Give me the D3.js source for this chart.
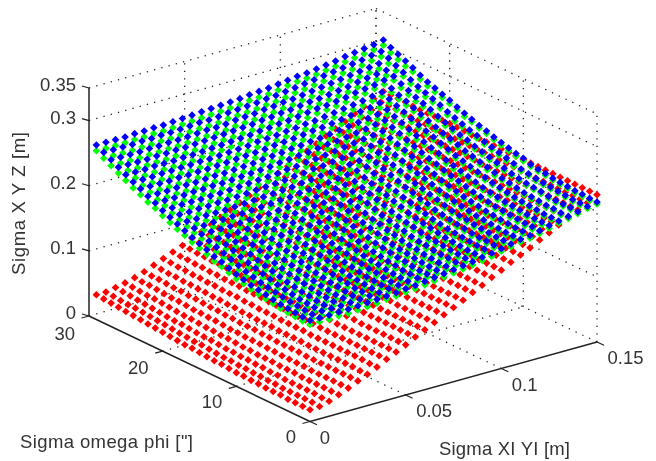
<!DOCTYPE html>
<html>
<head>
<meta charset="utf-8">
<script src="https://cdn.jsdelivr.net/npm/d3@7"></script>
<style>
  html, body { margin: 0; padding: 0; background: #fff; }
  svg { display: block; filter: blur(0.35px); }
  text { font-family: "Liberation Sans", Arial, sans-serif; fill: #333; }
</style>
</head>
<body>
<script>
const width = 656;
const height = 461;

const xTicks = [0, 0.05, 0.1, 0.15];
const yTicks = [0, 10, 20, 30];
const zTicks = [0, 0.1, 0.2, 0.3, 0.35];
const xTickLabels = ["0", "0.05", "0.1", "0.15"];
const yTickLabels = ["0", "10", "20", "30"];
const zTickLabels = ["0", "0.1", "0.2", "0.3", "0.35"];

// grid positions of the markers
const xValues = d3.range(31).map((i) => i * 0.005);
const yValues = d3.range(30);

// surfaces in mm, one row per sigma omega phi value, one column per sigma XI YI value
const redZ = [
  [18,19,23,29,35,42,48,55,63,70,77,85,92,99,107,114,121,129,136,144,151,159,166,173,181,188,196,203,211,218,226],
  [18,20,23,29,35,42,48,55,63,70,77,85,92,99,107,114,121,129,136,144,151,159,166,173,181,188,196,203,211,218,226],
  [18,20,24,29,35,42,49,56,63,70,77,85,92,99,107,114,121,129,136,144,151,159,166,173,181,188,196,203,211,218,226],
  [18,20,24,29,35,42,49,56,63,70,77,85,92,99,107,114,121,129,136,144,151,159,166,173,181,188,196,203,211,218,226],
  [19,20,24,29,35,42,49,56,63,70,77,85,92,99,107,114,121,129,136,144,151,159,166,173,181,188,196,203,211,218,226],
  [19,20,24,29,35,42,49,56,63,70,77,85,92,99,107,114,121,129,136,144,151,159,166,173,181,188,196,203,211,218,226],
  [19,21,24,30,36,42,49,56,63,70,77,85,92,100,107,114,122,129,137,144,151,159,166,174,181,189,196,204,211,218,226],
  [20,21,25,30,36,42,49,56,63,70,78,85,92,100,107,114,122,129,137,144,151,159,166,174,181,189,196,204,211,218,226],
  [20,22,25,30,36,43,49,56,63,70,78,85,92,100,107,114,122,129,137,144,151,159,166,174,181,189,196,204,211,218,226],
  [21,22,26,31,36,43,50,56,63,71,78,85,92,100,107,114,122,129,137,144,151,159,166,174,181,189,196,204,211,218,226],
  [21,23,26,31,37,43,50,57,64,71,78,86,93,100,107,115,122,130,137,144,152,159,167,174,181,189,196,204,211,219,226],
  [22,23,27,31,37,43,50,57,64,71,78,86,93,100,107,115,122,130,137,144,152,159,167,174,181,189,196,204,211,219,226],
  [23,24,27,32,38,44,50,57,64,71,78,86,93,100,107,115,122,130,137,144,152,159,167,174,181,189,196,204,211,219,226],
  [23,24,28,32,38,44,51,57,64,71,79,86,93,100,107,115,122,130,137,144,152,159,167,174,181,189,196,204,211,219,226],
  [24,25,28,33,38,45,51,58,65,72,79,86,93,101,108,115,123,130,137,145,152,160,167,174,182,189,197,204,212,219,226],
  [25,26,29,34,39,45,51,58,65,72,79,86,93,101,108,115,123,130,137,145,152,160,167,174,182,189,197,204,212,219,226],
  [26,27,30,34,39,45,52,58,65,72,79,86,93,101,108,115,123,130,137,145,152,160,167,174,182,189,197,204,212,219,226],
  [26,27,30,35,40,46,52,59,66,72,80,86,93,101,108,115,123,130,137,145,152,160,167,174,182,189,197,204,212,219,226],
  [27,28,31,35,41,46,53,59,66,73,80,87,94,102,109,116,123,131,138,145,153,160,167,175,182,190,197,205,212,219,227],
  [28,29,32,36,41,47,53,60,66,73,80,87,94,102,109,116,123,131,138,145,153,160,167,175,182,190,197,205,212,219,227],
  [29,30,33,37,42,47,54,60,67,73,80,87,94,102,109,116,123,131,138,145,153,160,167,175,182,190,197,205,212,219,227],
  [30,31,33,37,42,48,54,60,67,74,81,87,94,102,109,116,123,131,138,145,153,160,167,175,182,190,197,205,212,219,227],
  [31,32,34,38,43,49,55,61,67,74,81,88,95,103,110,117,124,132,139,146,153,161,168,176,183,190,198,205,213,220,227],
  [32,33,35,39,44,49,55,61,68,75,81,88,95,103,110,117,124,132,139,146,153,161,168,176,183,190,198,205,213,220,227],
  [33,34,36,40,44,50,56,62,68,75,82,88,95,103,110,117,124,132,139,146,153,161,168,176,183,190,198,205,213,220,227],
  [34,35,37,41,45,50,56,62,69,75,82,88,95,103,110,117,124,132,139,146,153,161,168,176,183,190,198,205,213,220,227],
  [35,35,38,41,46,51,57,63,69,76,83,90,97,104,111,118,125,133,140,147,154,162,169,176,184,191,198,206,213,221,228],
  [36,36,39,42,47,52,57,63,70,76,83,90,97,104,111,118,125,133,140,147,154,162,169,176,184,191,198,206,213,221,228],
  [37,37,40,43,47,52,58,64,70,77,83,90,97,104,111,118,125,133,140,147,154,162,169,176,184,191,198,206,213,221,228],
  [38,38,41,44,48,53,59,65,71,77,84,90,97,104,111,118,125,133,140,147,154,162,169,176,184,191,198,206,213,221,228],
];

const greenZ = [
  [149,149,149,150,150,151,152,153,155,156,158,159,161,163,165,167,169,171,174,176,180,183,186,188,191,195,199,202,205,209,212],
  [149,149,150,150,150,151,152,153,155,157,158,160,161,163,165,167,169,171,174,177,180,183,186,189,192,195,199,202,206,209,212],
  [150,150,150,150,151,152,152,154,156,157,158,160,162,163,165,167,170,172,174,177,181,183,186,189,192,195,199,203,206,209,213],
  [151,151,151,151,152,152,153,154,157,158,159,161,162,164,166,168,170,173,175,178,181,184,187,190,193,196,200,203,206,210,213],
  [152,152,152,153,153,154,155,156,158,159,161,162,164,166,167,169,171,174,176,179,182,185,188,191,194,197,201,204,207,211,214],
  [154,154,154,154,155,155,156,157,158,160,161,163,164,166,169,171,173,175,177,180,184,186,189,192,195,198,202,205,209,212,215],
  [156,156,156,156,157,157,158,159,160,162,163,164,166,168,170,172,174,176,179,181,185,188,190,193,196,199,203,206,210,213,216],
  [158,158,158,158,159,160,160,161,162,164,165,166,168,170,172,174,176,178,181,183,187,189,192,195,198,201,205,208,211,214,218],
  [160,160,161,161,161,162,163,164,165,166,168,169,170,172,175,177,179,181,183,185,189,191,194,197,200,203,207,210,213,216,219],
  [163,163,164,164,164,165,166,167,168,169,170,172,173,175,178,179,181,183,185,188,191,194,196,199,202,205,209,212,215,218,221],
  [165,165,166,166,166,167,168,169,171,172,173,175,176,178,181,183,184,186,188,191,194,196,198,201,204,207,211,214,217,220,224],
  [169,169,169,169,170,171,171,172,174,175,177,178,180,181,184,185,187,189,192,194,196,199,201,204,207,210,214,217,220,223,226],
  [173,173,173,173,174,174,175,176,178,179,180,182,183,185,187,189,191,193,195,197,200,202,205,207,210,213,217,220,223,226,229],
  [176,177,177,177,178,178,179,180,182,183,184,185,187,188,191,193,195,196,199,201,203,205,208,211,213,216,220,223,226,229,232],
  [181,181,181,181,182,182,183,184,186,187,188,189,191,192,194,195,197,199,201,203,207,209,211,214,217,219,223,226,229,232,235],
  [185,185,185,185,186,187,187,188,190,191,192,194,195,196,198,200,201,203,205,207,211,213,215,218,220,224,227,230,233,236,239],
  [189,190,190,190,190,191,192,192,194,195,196,198,199,200,202,204,206,207,209,211,215,217,219,222,224,227,231,234,236,239,242],
  [194,194,194,195,195,196,196,197,199,200,201,202,204,205,206,208,210,212,214,216,219,221,223,226,228,231,235,237,240,243,246],
  [198,198,198,199,199,199,200,201,203,204,205,206,207,209,210,212,213,215,217,219,222,224,226,229,231,234,238,240,243,246,249],
  [203,203,203,204,204,205,205,206,208,209,210,211,212,214,215,217,218,220,222,224,227,229,231,233,236,238,242,244,247,250,253],
  [208,208,209,209,209,210,210,211,213,214,215,216,217,219,220,222,223,225,227,229,232,234,236,238,240,243,246,249,252,255,258],
  [214,214,214,214,215,215,216,216,218,219,220,221,222,224,225,227,228,230,232,233,236,238,240,243,245,247,251,253,256,259,262],
  [218,218,218,219,219,219,220,221,222,223,224,225,227,228,229,231,232,234,235,237,240,242,244,246,248,251,254,257,259,262,265],
  [224,224,224,224,225,225,226,226,228,229,230,231,232,233,235,236,237,239,241,242,245,247,249,251,253,256,259,261,264,266,269],
  [229,229,229,230,230,231,231,232,233,234,235,236,237,239,240,241,243,244,246,247,250,252,254,256,258,261,264,266,269,271,274],
  [235,235,235,236,236,236,237,237,239,240,241,242,243,244,246,247,249,250,252,254,257,258,260,262,265,267,270,273,275,277,280],
  [241,241,241,241,242,242,243,243,244,245,246,247,248,249,250,252,253,255,256,258,261,262,264,266,268,271,273,275,277,280,283],
  [247,247,247,247,248,248,249,249,250,251,252,252,253,255,256,257,259,260,262,263,266,268,270,272,274,276,278,280,282,286,288],
  [253,253,253,253,254,254,255,255,256,257,258,258,259,261,262,263,264,266,267,269,272,274,276,278,280,282,284,286,289,291,293],
  [259,259,259,259,260,260,261,261,262,263,264,265,266,267,268,269,271,272,273,275,278,280,281,283,285,287,290,292,294,296,299],
];

const blueZ = [
  [155,155,155,156,156,157,158,159,160,161,163,164,166,168,170,172,174,176,179,181,184,187,190,192,195,199,202,205,208,212,215],
  [155,155,156,156,156,157,158,159,160,162,163,165,166,168,170,172,174,176,179,182,184,187,190,193,196,199,202,205,209,212,215],
  [156,156,156,156,157,158,158,160,161,162,163,165,167,168,170,172,175,177,179,182,185,187,190,193,196,199,202,206,209,212,216],
  [157,157,157,157,158,158,159,160,162,163,164,166,167,169,171,173,175,178,180,183,185,188,191,194,197,200,203,206,209,213,216],
  [158,158,158,159,159,160,161,162,163,164,166,167,169,171,172,174,176,179,181,184,186,189,192,195,198,201,204,207,210,214,217],
  [160,160,160,160,161,161,162,163,164,166,167,169,170,172,174,176,178,180,182,185,188,190,193,196,199,202,205,208,212,215,218],
  [162,162,162,162,163,163,164,165,166,168,169,170,172,174,175,177,179,181,184,186,189,192,194,197,200,203,206,209,213,216,219],
  [164,164,164,164,165,166,166,167,168,170,171,172,174,176,177,179,181,183,186,188,191,193,196,199,202,205,208,211,214,217,221],
  [166,166,167,167,167,168,169,170,171,172,174,175,176,178,180,182,184,186,188,190,193,195,198,201,204,207,210,213,216,219,222],
  [169,169,170,170,170,171,172,173,174,175,176,178,179,181,183,184,186,188,190,193,195,198,200,203,206,209,212,215,218,221,224],
  [172,172,173,173,173,174,175,176,177,178,179,181,182,184,186,188,189,191,193,196,199,201,203,206,209,212,215,218,221,224,228],
  [176,176,176,176,177,178,178,179,180,181,183,184,186,187,189,190,192,194,197,199,201,204,206,209,212,215,218,221,224,227,230],
  [180,180,180,180,181,181,182,183,184,185,186,188,189,191,192,194,196,198,200,202,205,207,210,212,215,218,221,224,227,230,233],
  [183,184,184,184,185,185,186,187,188,189,190,191,193,194,196,198,200,201,204,206,208,210,213,216,218,221,224,227,230,233,236],
  [188,188,188,188,189,189,190,191,192,193,194,195,197,198,200,201,203,205,207,209,212,214,216,219,222,224,227,230,233,236,239],
  [192,192,192,192,193,194,194,195,196,197,198,200,201,202,204,206,207,209,211,213,216,218,220,223,225,229,231,234,237,240,243],
  [196,197,197,197,197,198,199,199,200,201,202,204,205,206,208,210,212,213,215,217,220,222,224,227,229,232,235,238,240,243,246],
  [201,201,201,202,202,203,203,204,205,206,207,208,210,211,212,214,216,218,220,222,224,226,228,231,233,236,239,241,244,247,250],
  [206,206,206,207,207,207,208,209,210,211,212,213,214,216,217,219,220,222,224,226,228,230,232,235,237,240,243,245,248,251,254],
  [211,211,211,212,212,213,213,214,215,216,217,218,219,221,222,224,225,227,229,231,233,235,237,239,242,244,247,249,252,255,258],
  [216,216,217,217,217,218,218,219,220,221,222,223,224,226,227,229,230,232,234,236,238,240,242,244,246,249,251,254,257,260,263],
  [222,222,222,222,223,223,224,224,225,226,227,228,229,231,232,234,235,237,239,240,242,244,246,249,251,253,256,258,261,264,267],
  [227,227,227,228,228,228,229,230,230,231,232,233,235,236,237,239,240,242,243,245,247,249,251,253,255,258,260,263,265,268,271],
  [233,233,233,233,234,234,235,235,236,237,238,239,240,241,243,244,245,247,249,250,252,254,256,258,260,263,265,267,270,272,275],
  [238,238,238,239,239,240,240,241,241,242,243,244,245,247,248,249,251,252,254,255,257,259,261,263,265,268,270,272,275,277,280],
  [244,244,244,245,245,245,246,246,247,248,249,250,251,252,254,255,257,258,260,262,264,265,267,269,272,274,276,279,281,283,286],
  [250,250,250,250,251,251,252,252,253,254,255,256,257,258,259,261,262,264,265,267,269,270,272,274,276,279,281,283,285,288,291],
  [256,256,256,256,257,257,258,258,259,260,261,261,262,264,265,266,268,269,271,272,274,276,278,280,282,284,286,288,290,294,296],
  [262,262,262,262,263,263,264,264,265,266,267,267,268,270,271,272,273,275,276,278,280,282,284,286,288,290,292,294,297,299,301],
  [268,268,268,268,269,269,270,270,271,272,273,274,275,276,277,278,280,281,282,284,286,288,289,291,293,295,298,300,302,304,307],
];

// Orthographic box, measured from the axis corners of the picture
const originX = 310;
const originY = 421.5;
const xAcross = d3.scaleLinear().domain([0, 0.15]).range([0, 287]);
const xUp = d3.scaleLinear().domain([0, 0.15]).range([0, 79.5]);
const yAcross = d3.scaleLinear().domain([0, 30]).range([0, 221]);
const yUp = d3.scaleLinear().domain([0, 30]).range([0, 105.5]);
const zUp = d3.scaleLinear().domain([0, 0.35]).range([0, 228]);

function project(x, y, z) {
  return [
    originX + xAcross(x) - yAcross(y),
    originY - xUp(x) - yUp(y) - zUp(z),
  ];
}

const svg = d3
  .select("body")
  .append("svg")
  .attr("width", width)
  .attr("height", height)
  .attr("viewBox", [0, 0, width, height]);

svg.append("rect").attr("width", width).attr("height", height).attr("fill", "#fff");

// Dotted grid on the floor and the two back walls
const xMax = 0.15;
const yMax = 30;
const zMax = 0.35;
const gridLines = [];
xTicks.slice(1).forEach((x) => {
  gridLines.push([project(x, 0, 0), project(x, yMax, 0)]);
  gridLines.push([project(x, yMax, 0), project(x, yMax, zMax)]);
});
yTicks.slice(1).forEach((y) => {
  gridLines.push([project(0, y, 0), project(xMax, y, 0)]);
  gridLines.push([project(xMax, y, 0), project(xMax, y, zMax)]);
});
gridLines.push([project(xMax, 0, 0), project(xMax, 0, zMax)]);
zTicks.slice(1).forEach((z) => {
  gridLines.push([project(0, yMax, z), project(xMax, yMax, z)]);
  gridLines.push([project(xMax, yMax, z), project(xMax, 0, z)]);
});

svg
  .append("g")
  .selectAll("path")
  .data(gridLines)
  .join("path")
  .attr("d", d3.line())
  .attr("fill", "none")
  .attr("stroke", "#222")
  .attr("stroke-width", 1.3)
  .attr("stroke-dasharray", "1.3 6.2");

// Axis lines
const axisLines = [
  [project(0, 0, 0), project(xMax, 0, 0)],
  [project(0, 0, 0), project(0, yMax, 0)],
  [project(0, yMax, 0), project(0, yMax, zMax)],
];
svg
  .append("g")
  .selectAll("path")
  .data(axisLines)
  .join("path")
  .attr("d", d3.line())
  .attr("fill", "none")
  .attr("stroke", "#222")
  .attr("stroke-width", 1.5);

// Tick marks
const tickMarks = [];
xTicks.forEach((x) => {
  const [px, py] = project(x, 0, 0);
  tickMarks.push([[px, py], [px + 7, py + 3.3]]);
});
yTicks.forEach((y) => {
  const [px, py] = project(0, y, 0);
  tickMarks.push([[px, py], [px - 7.5, py + 2]]);
});
zTicks.forEach((z) => {
  const [px, py] = project(0, yMax, z);
  tickMarks.push([[px, py], [px - 7, py - 2]]);
});
svg
  .append("g")
  .selectAll("path")
  .data(tickMarks)
  .join("path")
  .attr("d", d3.line())
  .attr("fill", "none")
  .attr("stroke", "#222")
  .attr("stroke-width", 1.2);

// Markers, red at the back and blue on top
function drawSurface(rows, color) {
  const points = [];
  rows.forEach((row, j) => {
    row.forEach((z, i) => {
      points.push(project(xValues[i], yValues[j], z / 1000));
    });
  });
  svg
    .append("g")
    .attr("fill", color)
    .selectAll("path")
    .data(points)
    .join("path")
    .attr("d", d3.symbol(d3.symbolSquare, 29))
    .attr("transform", (d) => `translate(${d[0]},${d[1]}) rotate(45)`);
}
drawSurface(redZ, "#ff0000");
drawSurface(greenZ, "#00ff00");
drawSurface(blueZ, "#0000ff");

// Tick labels
const labelSize = 18.5;
xTicks.forEach((x, k) => {
  const [px, py] = project(x, 0, 0);
  svg
    .append("text")
    .attr("x", k === 0 ? px + 15 : px + 10.5)
    .attr("y", py + 22)
    .attr("font-size", labelSize)
    .attr("text-anchor", k === 0 ? "middle" : "start")
    .text(xTickLabels[k]);
});
yTicks.forEach((y, k) => {
  const [px, py] = project(0, y, 0);
  svg
    .append("text")
    .attr("x", px - 14)
    // labels sit a little lower towards the far end of this axis
    .attr("y", py + 21 + k * 1)
    .attr("font-size", labelSize)
    .attr("text-anchor", "end")
    .text(yTickLabels[k]);
});
zTicks.forEach((z, k) => {
  const [px, py] = project(0, yMax, z);
  svg
    .append("text")
    .attr("x", px - 13)
    .attr("y", py + 3)
    .attr("font-size", labelSize)
    .attr("text-anchor", "end")
    .text(zTickLabels[k]);
});

// Axis titles
svg
  .append("text")
  .attr("x", 20)
  .attr("y", 448)
  .attr("font-size", 18.5)
  .attr("textLength", 173)
  .text('Sigma omega phi ["]');
svg
  .append("text")
  .attr("x", 439)
  .attr("y", 455)
  .attr("font-size", 18.5)
  .attr("textLength", 131)
  .text("Sigma XI YI [m]");
svg
  .append("text")
  .attr("transform", "translate(25,275) rotate(-90)")
  .attr("font-size", 18.5)
  .attr("textLength", 143)
  .text("Sigma X Y Z [m]");
</script>
</body>
</html>
